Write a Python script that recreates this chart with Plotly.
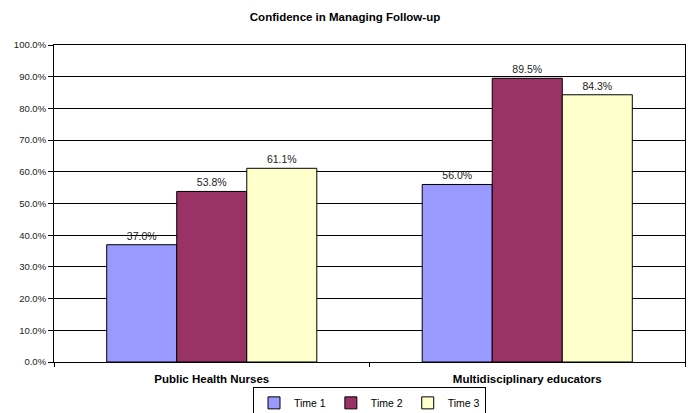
import plotly.graph_objects as go

categories = ["Public Health Nurses", "Multidisciplinary educators"]
series_names = ["Time 1", "Time 2", "Time 3"]
time1 = [37.0, 56.0]
time2 = [53.8, 89.5]
time3 = [61.1, 84.3]
colors = ["#9999FF", "#993366", "#FFFFCC"]
y_ticks = [0, 10, 20, 30, 40, 50, 60, 70, 80, 90, 100]

FONT = "Liberation Sans, Arial, sans-serif"

fig = go.Figure()
for name, vals, col in zip(series_names, [time1, time2, time3], colors):
    fig.add_trace(go.Bar(
        x=categories, y=vals, name=name,
        marker=dict(color=col, line=dict(color="black", width=1)),
        text=[f"{v:.1f}%" for v in vals], textposition="outside",
        textfont=dict(family=FONT, size=10.5, color="#222"),
        cliponaxis=False,
    ))

fig.update_layout(
    width=690, height=413,
    barmode="group", bargap=0.334, bargroupgap=0,
    paper_bgcolor="white", plot_bgcolor="white",
    margin=dict(l=54, r=5, t=45, b=51, autoexpand=False),
    title=dict(text="<b>Confidence in Managing Follow-up</b>", x=0.5, xanchor="center",
               y=1 - 17 / 413, yanchor="middle",
               font=dict(family=FONT, size=11.5, color="black")),
    font=dict(family=FONT, size=9, color="black"),
    showlegend=True,
    legend=dict(orientation="h", x=0.5, xanchor="center", y=-0.08, yanchor="top",
                bordercolor="black", borderwidth=1, bgcolor="white",
                font=dict(family=FONT, size=10.5, color="black"),
                itemwidth=30, tracegroupgap=0),
    xaxis=dict(showline=True, linecolor="black", linewidth=1, mirror=True, automargin=False,
               ticks="outside", tickson="boundaries", ticklen=4, tickcolor="black",
               ticklabelstandoff=6,
               tickfont=dict(family=FONT, size=11.5, color="black"),
               tickprefix="<b>", ticksuffix="</b>"),
    yaxis=dict(range=[0, 100], tickvals=y_ticks, automargin=False,
               ticktext=[f"{v:.1f}%" for v in y_ticks],
               showgrid=True, gridcolor="black", gridwidth=1,
               showline=True, linecolor="black", linewidth=1, mirror=True,
               ticks="outside", ticklen=5, tickcolor="black",
               tickfont=dict(family=FONT, size=9.5, color="#222"), zeroline=False),
)

fig.write_html("out.html", config={"displayModeBar": False},
               post_script="document.body.style.margin='0';document.body.style.overflow='hidden';")
